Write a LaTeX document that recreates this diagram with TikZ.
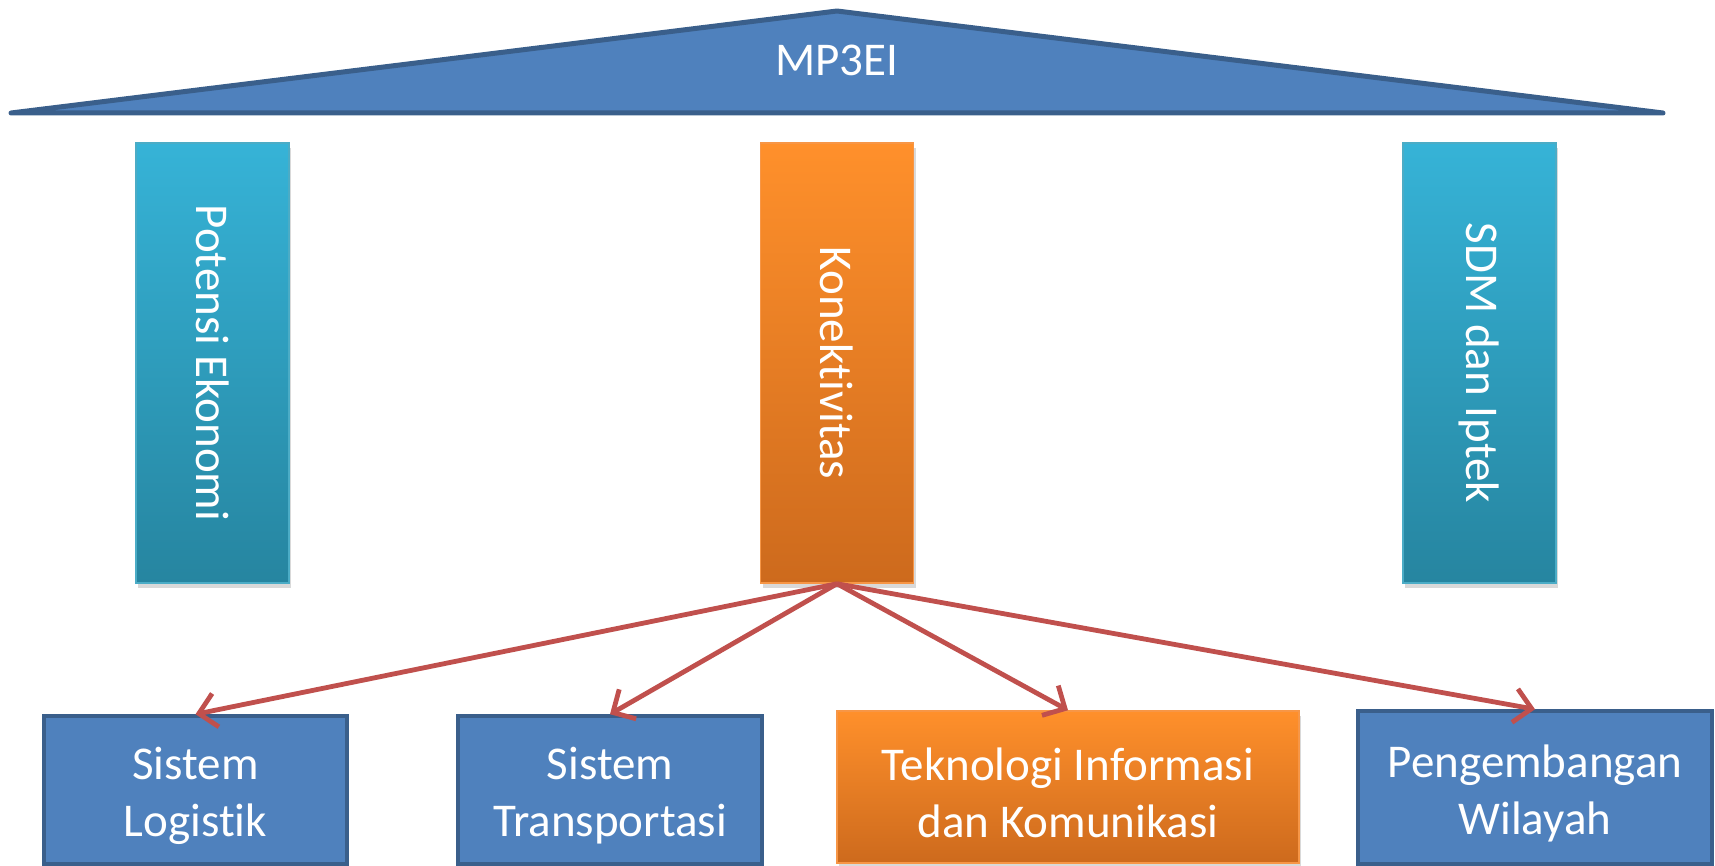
\documentclass[tikz,border=0pt]{standalone}
\usepackage{fontspec}
\setmainfont{Carlito}[Ligatures=NoCommon]
\usetikzlibrary{arrows.meta,shadows}
\definecolor{triblue}{HTML}{4F81BD}
\definecolor{triedge}{HTML}{3A5F8B}
\definecolor{tealtop}{HTML}{36B3D7}
\definecolor{tealbot}{HTML}{2685A0}
\definecolor{tealedge}{HTML}{4BACC6}
\definecolor{orgtop}{HTML}{FF902B}
\definecolor{orgbot}{HTML}{CD6A1D}
\definecolor{orgedge}{HTML}{F79646}
\definecolor{arrowred}{HTML}{C0504D}
\begin{document}
\begin{tikzpicture}[x=1pt,y=-1pt,
  lbl/.style={text=white,font=\fontsize{47}{57}\selectfont,align=center},
  shad/.style={drop shadow={opacity=0.3,shadow xshift=2pt,shadow yshift=-5pt}},
  pillar/.style={shad,line width=1.5pt,minimum width=153pt,minimum height=440pt,inner sep=0pt},
  tealpillar/.style={pillar,draw=tealedge,top color=tealtop,bottom color=tealbot},
  orgpillar/.style={pillar,draw=orgedge,top color=orgtop,bottom color=orgbot},
  bluebox/.style={shad,draw=triedge,fill=triblue,line width=3.5pt,inner sep=0pt},
  orgbox/.style={shad,draw=orgedge,top color=orgtop,bottom color=orgbot,line width=1.5pt,inner sep=0pt},
  boxtext/.style={lbl,yshift=-6pt},
  conn/.style={draw=arrowred,line width=4.8pt,-{Straight Barb[length=17pt,width=34pt,line width=4.8pt]}}
]
\useasboundingbox (0,0) rectangle (1715,866);
% roof
\draw[fill=triblue,draw=triedge,line width=5pt,line join=round,line cap=round]
  (11,113) -- (837,11) -- (1663,113) -- cycle;
\node[lbl] (mp) at (837,60) {MP3EI};
% pillars
\node[tealpillar] (pe) at (212.5,363) {};
\node[lbl,rotate=-90] (pet) at (pe.center) {Potensi Ekonomi};
\node[orgpillar] (kon) at (837,363) {};
\node[lbl,rotate=-90] (kont) at (kon.center) {Konektivitas};
\node[tealpillar] (sdm) at (1479.5,363) {};
\node[lbl,rotate=-90] (sdmt) at (sdm.center) {SDM dan Iptek};
% bottom boxes
\node[bluebox,minimum width=303pt,minimum height=148pt] (log) at (195.5,790) {};
\node[boxtext] (logt) at (log.center) {Sistem\\Logistik};
\node[bluebox,minimum width=304pt,minimum height=148pt] (tra) at (610,790) {};
\node[boxtext] (trat) at (tra.center) {Sistem\\Transportasi};
\node[orgbox,minimum width=462pt,minimum height=152pt] (tik) at (1068,787) {};
\node[boxtext] (tikt) at (tik.center) {Teknologi Informasi\\dan Komunikasi};
\node[bluebox,minimum width=354pt,minimum height=153pt] (wil) at (1535,787.5) {};
\node[boxtext] (wilt) at (wil.center) {Pengembangan\\Wilayah};
% connectors
\draw[conn] (kon.south) -- (log.north);
\draw[conn] (kon.south) -- (tra.north);
\draw[conn] (kon.south) -- (tik.north);
\draw[conn] (kon.south) -- (wil.north);
\end{tikzpicture}
\end{document}
